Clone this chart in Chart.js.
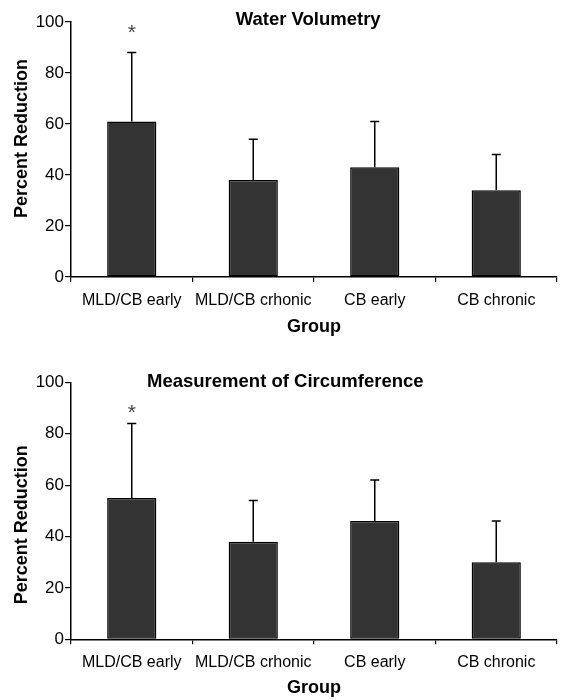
<!DOCTYPE html>
<html>
<head>
<meta charset="utf-8">
<script src="https://cdn.jsdelivr.net/npm/chart.js@4/dist/chart.umd.min.js"></script>
<style>
  html, body { margin: 0; padding: 0; background: #ffffff; }
  .wrap { position: relative; width: 561px; height: 350px; }
</style>
</head>
<body>
<div class="wrap"><canvas id="c1"></canvas></div>
<div class="wrap"><canvas id="c2"></canvas></div>
<script>
// ---- data ----
const categories = ['MLD/CB early', 'MLD/CB crhonic', 'CB early', 'CB chronic'];
const yTickValues = [0, 20, 40, 60, 80, 100];

const waterTitle = 'Water Volumetry';
const waterMeans = [61, 38, 43, 34];
const waterSD = [27, 16, 18, 14];
const waterSig = [98, null, null, null];   // asterisk value (significance marker)

const circTitle = 'Measurement of Circumference';
const circMeans = [55, 38, 46, 30];
const circSD = [29, 16, 16, 16];
const circSig = [90.5, null, null, null];

const yAxisTitle = 'Percent Reduction';
const xAxisTitle = 'Group';

const FONT = '"Liberation Sans", Arial, sans-serif';

// ---- plugins ----
const errorBarPlugin = {
  id: 'errorBars',
  afterDatasetsDraw(chart, args, opts) {
    const ctx = chart.ctx;
    const meta = chart.getDatasetMeta(0);
    const ys = chart.scales.y;
    const means = chart.data.datasets[0].data;
    const sds = opts.sd || [];
    const sig = opts.sig || [];
    ctx.save();
    ctx.strokeStyle = '#000';
    ctx.lineWidth = 1.5;
    meta.data.forEach((bar, i) => {
      const x = bar.x;
      const y0 = ys.getPixelForValue(means[i]);
      const y1 = ys.getPixelForValue(means[i] + sds[i]);
      ctx.beginPath();
      ctx.moveTo(x, y0);
      ctx.lineTo(x, y1);
      ctx.moveTo(x - 4.5, y1);
      ctx.lineTo(x + 4.5, y1);
      ctx.stroke();
      if (sig[i] != null) {
        ctx.fillStyle = '#444';
        ctx.font = '21px ' + FONT;
        ctx.textAlign = 'center';
        ctx.textBaseline = 'alphabetic';
        ctx.fillText('*', x, ys.getPixelForValue(sig[i]) + 12);
      }
    });
    ctx.restore();
  }
};

const innerTitlePlugin = {
  id: 'innerTitle',
  afterDraw(chart, args, opts) {
    const a = chart.chartArea;
    const ctx = chart.ctx;
    ctx.save();
    ctx.fillStyle = '#000';
    ctx.font = 'bold 18.5px ' + FONT;
    ctx.textAlign = 'center';
    ctx.textBaseline = 'middle';
    ctx.fillText(opts.text, a.left + opts.frac * (a.right - a.left), a.top + opts.dy);
    // y-axis title
    ctx.font = 'bold 18px ' + FONT;
    ctx.translate(opts.yTitleX, (a.top + a.bottom) / 2 + opts.yTitleDy);
    ctx.rotate(-Math.PI / 2);
    ctx.fillText(opts.yTitle, 0, 0);
    ctx.restore();
  }
};

function makeChart(id, title, means, sds, sig, cfg) {
  return new Chart(document.getElementById(id), {
    type: 'bar',
    data: {
      labels: categories,
      datasets: [{
        data: means,
        backgroundColor: '#333333',
        borderColor: '#000000',
        borderWidth: 1.5,
        borderSkipped: false,
        categoryPercentage: 1.0,
        barPercentage: 0.405
      }]
    },
    plugins: [errorBarPlugin, innerTitlePlugin],
    options: {
      responsive: true,
      maintainAspectRatio: false,
      animation: false,
      events: [],
      layout: { padding: { top: cfg.padTop, right: 4, bottom: 0, left: 0 } },
      plugins: {
        legend: { display: false },
        tooltip: { enabled: false },
        title: { display: false },
        errorBars: { sd: sds, sig: sig },
        innerTitle: { text: title, frac: cfg.titleFrac, dy: cfg.titleDy,
                      yTitle: yAxisTitle, yTitleX: 22.5, yTitleDy: cfg.yTitleDy }
      },
      scales: {
        x: {
          grid: {
            offset: true,
            drawOnChartArea: false,
            drawTicks: true,
            tickLength: 5,
            color: '#000',
            lineWidth: 1.2
          },
          border: { display: true, color: '#000', width: 1.5 },
          ticks: {
            color: '#000',
            padding: cfg.xTickPad,
            maxRotation: 0,
            autoSkip: false,
            font: { family: FONT, size: 16 }
          },
          title: {
            display: true,
            text: xAxisTitle,
            color: '#000',
            padding: { top: 0, bottom: cfg.xTitlePad },
            font: { family: FONT, size: 18, weight: 'bold' }
          },
          afterFit(scale) { scale.height = cfg.xHeight; }
        },
        y: {
          min: 0,
          max: 100,
          afterBuildTicks(scale) { scale.ticks = yTickValues.map(v => ({ value: v })); },
          grid: {
            drawOnChartArea: false,
            drawTicks: true,
            tickLength: 6,
            color: '#000',
            lineWidth: 1.2
          },
          border: { display: true, color: '#000', width: 1.5 },
          ticks: {
            color: '#000',
            padding: 1,
            font: { family: FONT, size: 17 }
          },
          title: { display: false },
          afterFit(scale) { scale.width = 71; }
        }
      }
    }
  });
}

makeChart('c1', waterTitle, waterMeans, waterSD, waterSig,
  { padTop: 22, xHeight: 73, xTickPad: 9.4, xTitlePad: 12, titleFrac: 0.488, titleDy: -2, yTitleDy: -11 });
makeChart('c2', circTitle, circMeans, circSD, circSig,
  { padTop: 32.3, xHeight: 60.7, xTickPad: 8.8, xTitlePad: 1.2, titleFrac: 0.441, titleDy: -0.5, yTitleDy: 14 });
</script>
</body>
</html>
